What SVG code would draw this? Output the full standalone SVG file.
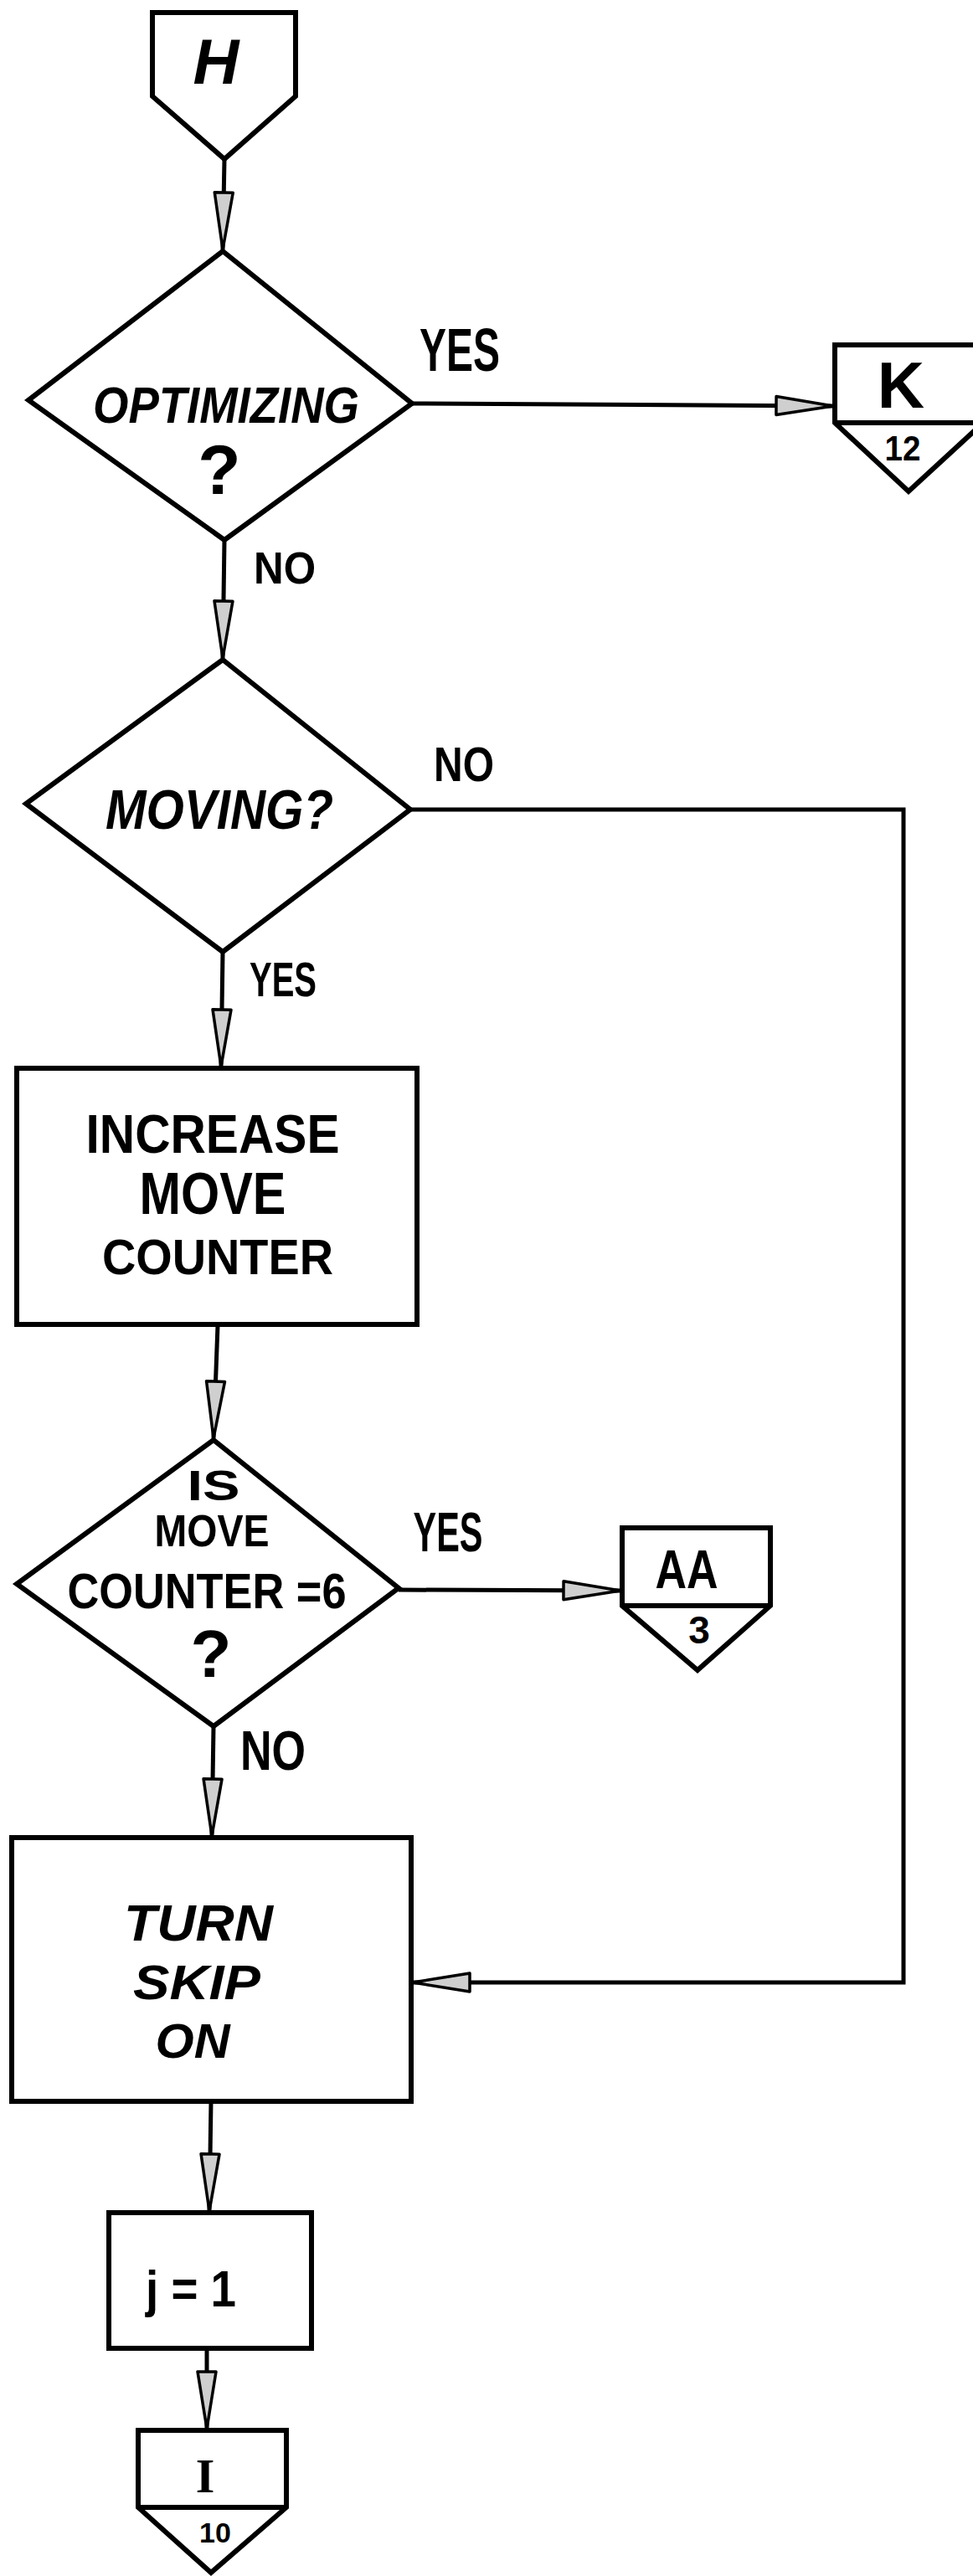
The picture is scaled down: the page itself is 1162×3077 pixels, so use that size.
<svg xmlns="http://www.w3.org/2000/svg" width="1162" height="3077" viewBox="0 0 1162 3077">
<defs>
<marker id="arr" viewBox="0 0 74 28" refX="71" refY="14" markerWidth="74" markerHeight="28" markerUnits="userSpaceOnUse" orient="auto">
<path d="M3,3 L71,14 L3,25 Z" fill="#cfcfcf" stroke="#000" stroke-width="3.5" stroke-linejoin="round"/>
</marker>
</defs>
<style>
.shape{fill:#fff;stroke:#000;stroke-width:6;stroke-linejoin:miter}
.div{fill:none;stroke:#000;stroke-width:6}
.conn{fill:none;stroke:#000;stroke-width:5;marker-end:url(#arr)}
.t{font-family:"Liberation Sans",Arial,sans-serif;font-weight:bold;fill:#000;text-anchor:middle}
.i{font-style:italic}
.s{font-family:"Liberation Serif","Times New Roman",serif;font-weight:bold;fill:#000;text-anchor:middle}
</style>
<rect width="1162" height="3077" fill="#fff"/>

<g id="connectors">
<path class="conn" d="M268,190 L266,298"/>
<path class="conn" d="M492,482 L995,485"/>
<path class="conn" d="M268,645 L266,786"/>
<path class="conn" d="M490,967 L1079,967 L1079,2368 L493,2368"/>
<path class="conn" d="M266,1137 L264,1274"/>
<path class="conn" d="M260,1583 L255,1718"/>
<path class="conn" d="M476,1899 L741,1900"/>
<path class="conn" d="M255,2062 L253,2193"/>
<path class="conn" d="M252,2510 L250,2641"/>
<path class="conn" d="M247,2805 L247,2901"/>
</g>

<g id="labels">
<text class="t" x="549" y="443" font-size="72" textLength="96" lengthAdjust="spacingAndGlyphs">YES</text>
<text class="t" x="340" y="697" font-size="54" textLength="74" lengthAdjust="spacingAndGlyphs">NO</text>
<text class="t" x="554" y="933" font-size="58" textLength="72" lengthAdjust="spacingAndGlyphs">NO</text>
<text class="t" x="338" y="1190" font-size="58" textLength="80" lengthAdjust="spacingAndGlyphs">YES</text>
<text class="t" x="535" y="1853" font-size="66" textLength="83" lengthAdjust="spacingAndGlyphs">YES</text>
<text class="t" x="326" y="2114" font-size="66" textLength="78" lengthAdjust="spacingAndGlyphs">NO</text>
</g>

<g id="node-H">
<path class="shape" d="M182,15 L353,15 L353,115 L268,190 L182,115 Z"/>
<text class="t i" x="258" y="100" font-size="76">H</text>
</g>

<g id="node-optimizing">
<polygon class="shape" points="266,300 492,482 268,645 34,478"/>
<text class="t i" x="270" y="505" font-size="62" textLength="318" lengthAdjust="spacingAndGlyphs">OPTIMIZING</text>
<text class="t" x="262" y="590" font-size="84">?</text>
</g>

<g id="node-K">
<path class="shape" d="M997,412 L1174,412 L1174,505 L1085,587 L997,505 Z"/>
<path class="div" d="M997,505 L1174,505"/>
<text class="t" x="1076" y="487" font-size="78">K</text>
<text class="t" x="1078" y="550" font-size="42" textLength="43" lengthAdjust="spacingAndGlyphs">12</text>
</g>

<g id="node-moving">
<polygon class="shape" points="266,788 490,967 266,1137 31,960"/>
<text class="t i" x="262" y="990" font-size="66" textLength="272" lengthAdjust="spacingAndGlyphs">MOVING?</text>
</g>

<g id="node-increase">
<rect class="shape" x="20" y="1276" width="478" height="306"/>
<text class="t" x="254" y="1377" font-size="64" textLength="303" lengthAdjust="spacingAndGlyphs">INCREASE</text>
<text class="t" x="254" y="1450" font-size="70" textLength="175" lengthAdjust="spacingAndGlyphs">MOVE</text>
<text class="t" x="260" y="1522" font-size="60" textLength="276" lengthAdjust="spacingAndGlyphs">COUNTER</text>
</g>

<g id="node-counter6">
<polygon class="shape" points="255,1720 476,1897 255,2062 20,1892"/>
<text class="t" x="255" y="1792" font-size="50" textLength="63" lengthAdjust="spacingAndGlyphs">IS</text>
<text class="t" x="253" y="1847" font-size="54" textLength="137" lengthAdjust="spacingAndGlyphs">MOVE</text>
<text class="t" x="247" y="1921" font-size="60" textLength="333" lengthAdjust="spacingAndGlyphs">COUNTER =6</text>
<text class="t" x="252" y="2003" font-size="80">?</text>
</g>

<g id="node-AA">
<path class="shape" d="M743,1825 L920,1825 L920,1918 L833,1995 L743,1918 Z"/>
<path class="div" d="M743,1918 L920,1918"/>
<text class="t" x="820" y="1897" font-size="64" textLength="75" lengthAdjust="spacingAndGlyphs">AA</text>
<text class="t" x="835" y="1963" font-size="46">3</text>
</g>

<g id="node-turnskip">
<rect class="shape" x="14" y="2195" width="477" height="315"/>
<text class="t i" x="237" y="2318" font-size="62" textLength="178" lengthAdjust="spacingAndGlyphs">TURN</text>
<text class="t i" x="235" y="2388" font-size="58" textLength="152" lengthAdjust="spacingAndGlyphs">SKIP</text>
<text class="t i" x="230" y="2458" font-size="58" textLength="89" lengthAdjust="spacingAndGlyphs">ON</text>
</g>

<g id="node-j">
<rect class="shape" x="130" y="2643" width="242" height="162"/>
<text class="t" x="228" y="2755" font-size="62" textLength="108" lengthAdjust="spacingAndGlyphs">j = 1</text>
</g>

<g id="node-I">
<path class="shape" d="M165,2903 L342,2903 L342,2995 L252,3073 L165,2995 Z"/>
<path class="div" d="M165,2995 L342,2995"/>
<text class="s" x="245" y="2977" font-size="58">I</text>
<text class="t" x="257" y="3037" font-size="34">10</text>
</g>
</svg>
